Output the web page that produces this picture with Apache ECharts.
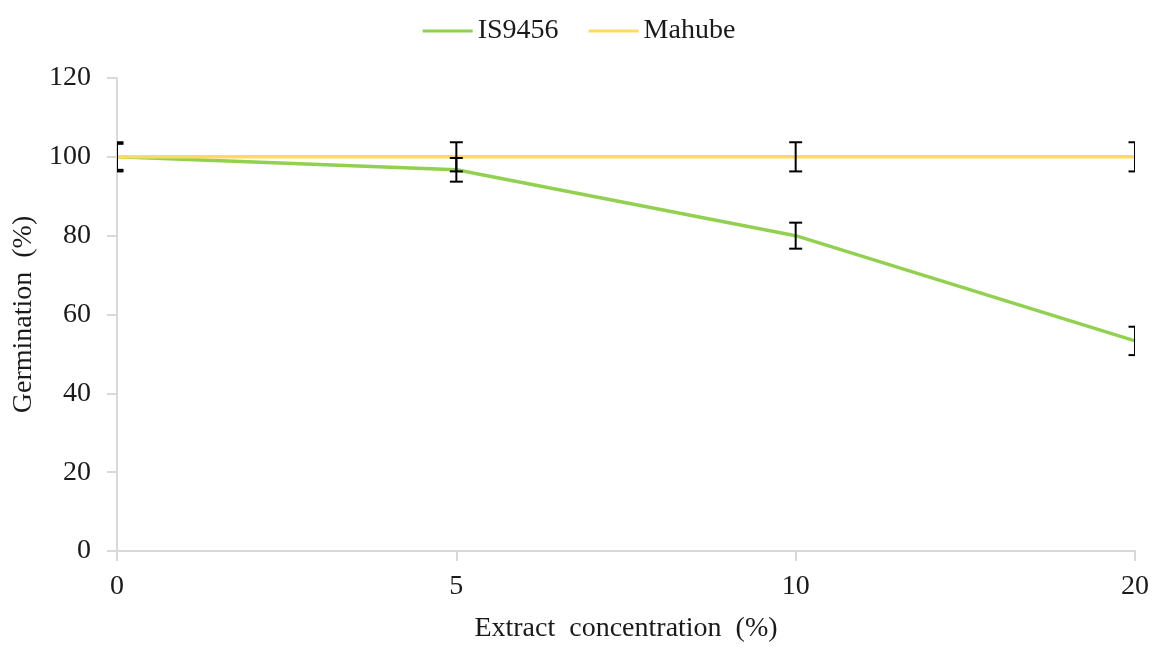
<!DOCTYPE html>
<html>
<head>
<meta charset="utf-8">
<script src="https://cdn.jsdelivr.net/npm/echarts@6/dist/echarts.min.js"></script>
<style>html,body{margin:0;padding:0;background:#fff;overflow:hidden;}#c{width:1158px;height:648px;}</style>
</head>
<body>
<div id="c"></div>
<script>
var categories = ['0', '5', '10', '20'];
var is9456 = [100, 96.7, 80, 53.3];
var is9456Err = [3.3, 3.0, 3.3, 3.6];
var mahube = [100, 100, 100, 100];
var mahubeErr = [3.7, 3.7, 3.7, 3.7];
var yTicks = [0, 20, 40, 60, 80, 100, 120];

var FONT = '"Liberation Serif", "Times New Roman", serif';
var TXT = '#1a1a1a';

function errData(vals, errs) {
  return vals.map(function (v, i) { return [i, v - errs[i], v + errs[i]]; });
}

function renderErr(params, api) {
  var lo = api.coord([api.value(0), api.value(1)]);
  var hi = api.coord([api.value(0), api.value(2)]);
  var cap = 6.5;
  var st = { stroke: '#000', lineWidth: 2 };
  return {
    type: 'group',
    children: [
      { type: 'line', shape: { x1: hi[0], y1: hi[1], x2: lo[0], y2: lo[1] }, style: st },
      { type: 'line', shape: { x1: hi[0] - cap, y1: hi[1], x2: hi[0] + cap, y2: hi[1] }, style: st },
      { type: 'line', shape: { x1: lo[0] - cap, y1: lo[1], x2: lo[0] + cap, y2: lo[1] }, style: st }
    ]
  };
}

var chart = echarts.init(document.getElementById('c'));
chart.setOption({
  backgroundColor: '#fff',
  animation: false,
  textStyle: { fontFamily: FONT },
  legend: {
    top: 12,
    left: 'center',
    itemWidth: 50,
    itemHeight: 3,
    itemGap: 30,
    icon: 'rect',
    textStyle: { fontFamily: FONT, fontSize: 28, color: TXT, padding: [0, 0, 0, 0] },
    data: ['IS9456', 'Mahube']
  },
  grid: { left: 117, right: 23, top: 78, bottom: 91, containLabel: false },
  xAxis: {
    type: 'category',
    data: categories,
    boundaryGap: false,
    name: 'Extract  concentration  (%)',
    nameLocation: 'middle',
    nameGap: 64,
    nameTextStyle: { fontFamily: FONT, fontSize: 28, color: TXT },
    axisLine: { lineStyle: { color: '#d9d9d9', width: 2 } },
    axisTick: { show: true, alignWithLabel: true, length: 10, lineStyle: { color: '#d9d9d9', width: 2 } },
    axisLabel: { fontFamily: FONT, fontSize: 28, color: TXT, margin: 22 },
    splitLine: { show: false }
  },
  yAxis: {
    type: 'value',
    min: 0,
    max: 120,
    interval: 20,
    name: 'Germination  (%)',
    nameLocation: 'middle',
    nameGap: 78,
    nameRotate: 90,
    nameTextStyle: { fontFamily: FONT, fontSize: 28, color: TXT },
    axisLine: { show: true, lineStyle: { color: '#d9d9d9', width: 2 } },
    axisTick: { show: true, length: 10, lineStyle: { color: '#d9d9d9', width: 2 } },
    axisLabel: { fontFamily: FONT, fontSize: 28, color: TXT, margin: 26,
      formatter: function (v) { return yTicks.indexOf(v) >= 0 ? String(v) : ''; } },
    splitLine: { show: false }
  },
  series: [
    {
      name: 'IS9456', type: 'line', data: is9456, symbol: 'none', smooth: false,
      lineStyle: { color: '#92D050', width: 3.5 }, itemStyle: { color: '#92D050' }, z: 2
    },
    {
      name: 'Mahube', type: 'line', data: mahube, symbol: 'none',
      lineStyle: { color: '#FFD966', width: 3.5 }, itemStyle: { color: '#FFD966' }, z: 3
    },
    {
      type: 'custom', name: 'IS9456 err', data: errData(is9456, is9456Err),
      renderItem: renderErr, clip: true, z: 4, silent: true, encode: { x: 0, y: [1, 2] }
    },
    {
      type: 'custom', name: 'Mahube err', data: errData(mahube, mahubeErr),
      renderItem: renderErr, clip: true, z: 4, silent: true, encode: { x: 0, y: [1, 2] }
    }
  ]
});
</script>
</body>
</html>
